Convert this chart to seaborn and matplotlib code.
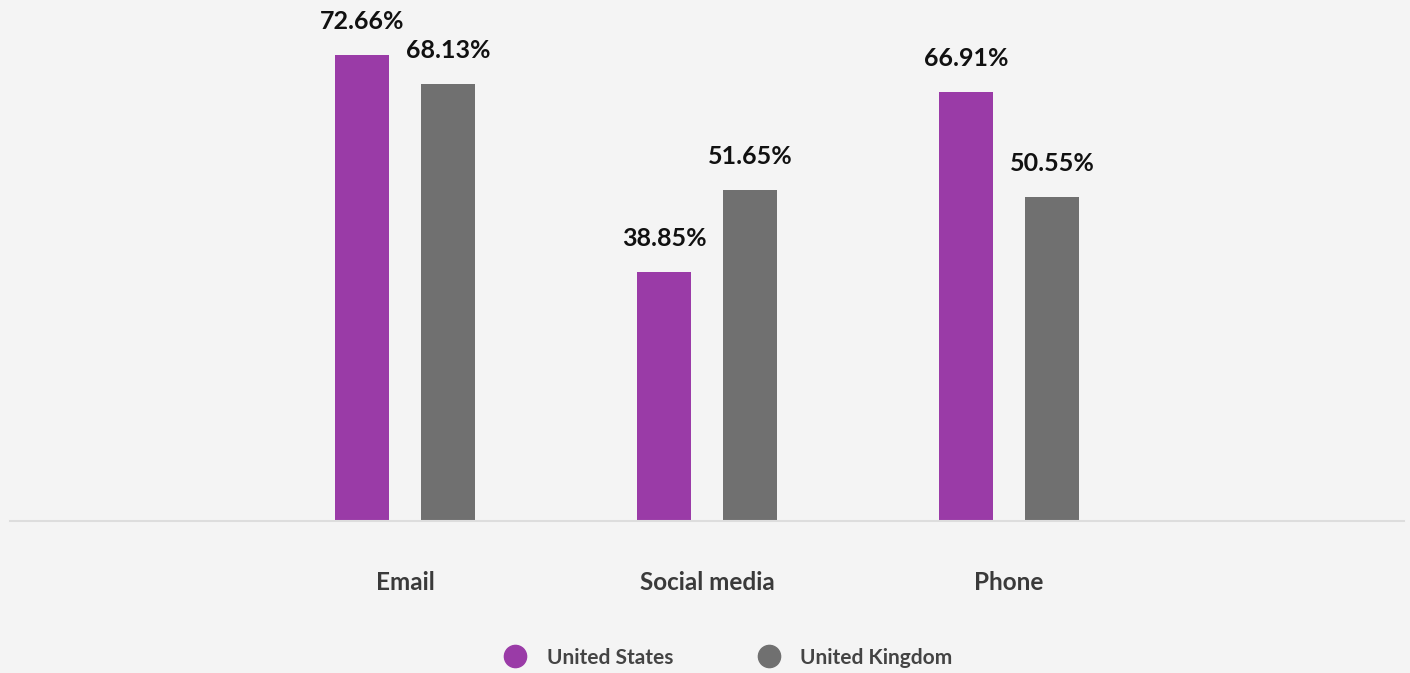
import matplotlib
matplotlib.use("Agg")
import matplotlib.pyplot as plt
from matplotlib.lines import Line2D
import seaborn as sns
import pandas as pd

# Preferred contact channel share by country
channels = ["Email", "Social media", "Phone"]
countries = ["United States", "United Kingdom"]
us_values = [72.66, 38.85, 66.91]
uk_values = [68.13, 51.65, 50.55]

colors = {"United States": "#9a3ba7", "United Kingdom": "#707070"}
bg = "#f4f4f4"

df = pd.DataFrame({
    "channel": channels * 2,
    "country": [countries[0]] * 3 + [countries[1]] * 3,
    "value": us_values + uk_values,
})

sns.set_theme(style="white")
plt.rcParams["font.family"] = ["Lato", "DejaVu Sans"]

fig = plt.figure(figsize=(14.1, 6.73), dpi=100, facecolor=bg)
ax = fig.add_axes([10 / 1410, 152 / 673, 1394 / 1410, 521 / 673])
ax.set_facecolor(bg)

sns.barplot(data=df, x="channel", y="value", hue="country", order=channels,
            hue_order=countries, palette=colors, width=0.57, gap=0.372,
            saturation=1, ax=ax, legend=False, errorbar=None, linewidth=0)

for cont in ax.containers:
    ax.bar_label(cont, labels=[f"{v:.2f}%" for v in cont.datavalues],
                 padding=15.5, fontsize=18, fontweight="bold", color="#111111")

ax.set_xlim(-1.308, 3.308)
ax.set_ylim(0, 81.2)
ax.set_xlabel("")
ax.set_ylabel("")
ax.set_yticks([])
ax.tick_params(axis="x", length=0, pad=36, labelsize=17.5, labelcolor="#3a3a3a")
for lbl in ax.get_xticklabels():
    lbl.set_fontweight("bold")

for side in ["top", "left", "right"]:
    ax.spines[side].set_visible(False)
ax.spines["bottom"].set_color("#dddddd")
ax.spines["bottom"].set_linewidth(1.5)

handles = [Line2D([0], [0], marker="o", linestyle="", markersize=16,
                  markerfacecolor=colors[c], markeredgecolor=colors[c], label=c)
           for c in countries]
leg = fig.legend(handles=handles, loc="center", bbox_to_anchor=(0.513, 0.023),
                 ncol=2, frameon=False, handlelength=2.0, handletextpad=0.5,
                 columnspacing=3.6, prop={"size": 15, "weight": "bold"})
for t in leg.get_texts():
    t.set_color("#444444")

fig.savefig("out.png", dpi=100, facecolor=bg)
